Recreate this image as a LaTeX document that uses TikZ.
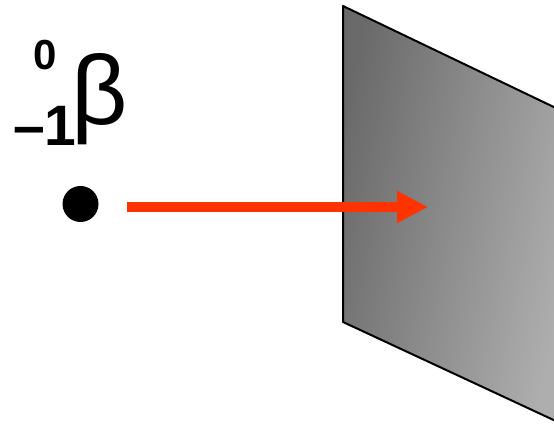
\documentclass[tikz,border=0pt]{standalone}
\usepackage{fontspec}
\setmainfont{Liberation Sans}
\usetikzlibrary{arrows.meta}
\begin{document}
\begin{tikzpicture}[x=1pt,y=-1pt]
			\definecolor{plaquesombre}{RGB}{106,106,106}
			\definecolor{plaqueclair}{RGB}{174,174,174}
			\definecolor{rayon}{RGB}{255,51,0}
			\useasboundingbox (0,0) rectangle (554,427);
			\begin{scope}
				\clip (0,0) rectangle (554,427);
				\shade[left color=plaquesombre, right color=plaqueclair, shading angle=78] (343,6) -- (343,322) -- (560,423) -- (560,110) -- cycle;
				\draw[line width=2, line join=round] (560,110) -- (343,6) -- (343,322) -- (560,423);
			\end{scope}
			\node[anchor=base, inner sep=0, font=\fontsize{42}{42}\bfseries\selectfont] (masse) at (45.5,70) {0};
			\node[anchor=base west, inner sep=0, font=\fontsize{57}{57}\bfseries\selectfont] (charge) at (13,146) {–1};
			\node[anchor=base west, inner sep=0, font=\fontsize{98}{98}\selectfont] (beta) at (71,125) {β};
			\node[circle, fill=black, inner sep=0, minimum size=36] (particule) at (80.5,204) {};
			\coordinate (depart) at (127,207);
			\coordinate (impact) at (428,207);
			\draw[rayon, line width=10, -{Triangle[length=31, width=30]}] (depart) -- (impact);
\end{tikzpicture}
\end{document}
